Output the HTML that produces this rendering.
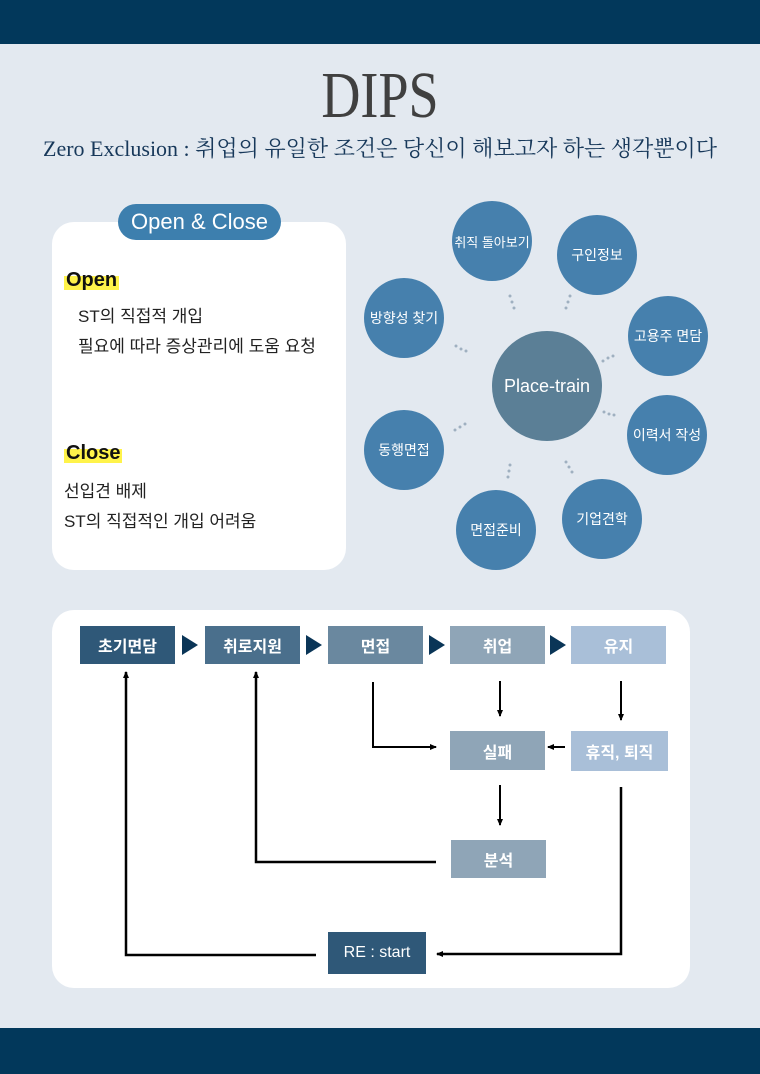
<!DOCTYPE html>
<html><head><meta charset="utf-8"><style>
body{margin:0;width:760px;height:1074px;background:#e3e9f0;position:relative;overflow:hidden;font-family:"Liberation Sans","Noto Sans CJK KR",sans-serif}
.bar{position:absolute;left:0;width:760px;background:#02385b}
.abs{position:absolute}
.card{position:absolute;background:#fff;border-radius:22px}
.c{position:absolute;border-radius:50%;background:#4680ad;color:#fff;display:flex;align-items:center;justify-content:center;font-size:13px}
.b{position:absolute;color:#fff;display:flex;align-items:center;justify-content:center;font-size:16px;font-weight:bold}
.t{position:absolute;font-size:17px;color:#222}
.hl{position:absolute;font-size:20px;font-weight:bold;color:#111;background:linear-gradient(transparent 30%,#fff34a 30%,#fff34a 92%,transparent 92%);padding:0 2px}
</style></head><body>
<div class="bar" style="top:0;height:44px"></div>
<div class="bar" style="top:1028px;height:46px"></div>
<div class="abs" style="left:0;width:760px;top:58px;text-align:center;font-family:'Liberation Serif',serif;font-size:66px;color:#404040;transform:scaleX(0.82)">DIPS</div>
<div class="abs" style="left:0;width:760px;top:132px;text-align:center;font-family:'Liberation Serif','Noto Serif CJK SC',serif;font-size:22px;color:#17385a">Zero Exclusion : 취업의 유일한 조건은 당신이 해보고자 하는 생각뿐이다</div>

<div class="card" style="left:52px;top:222px;width:294px;height:348px"></div>
<div class="abs" style="left:118px;top:204px;width:163px;height:36px;border-radius:18px;background:#3d7fae;color:#fff;font-size:22px;display:flex;align-items:center;justify-content:center">Open &amp; Close</div>
<div class="hl" style="left:64px;top:269px">Open</div>
<div class="t" style="left:78px;top:302px">ST의 직접적 개입</div>
<div class="t" style="left:78px;top:332px">필요에 따라 증상관리에 도움 요청</div>
<div class="hl" style="left:64px;top:442px">Close</div>
<div class="t" style="left:64px;top:477px">선입견 배제</div>
<div class="t" style="left:64px;top:507px">ST의 직접적인 개입 어려움</div>

<svg class="abs" style="left:0;top:0" width="760" height="1074">
<g fill="#9fb0c0">
<circle cx="510" cy="296" r="1.5"/><circle cx="512" cy="302" r="1.5"/><circle cx="514" cy="308" r="1.5"/>
<circle cx="570" cy="296" r="1.5"/><circle cx="568" cy="302" r="1.5"/><circle cx="566" cy="308" r="1.5"/>
<circle cx="456" cy="346" r="1.5"/><circle cx="461" cy="349" r="1.5"/><circle cx="466" cy="351" r="1.5"/>
<circle cx="603" cy="361" r="1.5"/><circle cx="608" cy="358" r="1.5"/><circle cx="613" cy="356" r="1.5"/>
<circle cx="604" cy="412" r="1.5"/><circle cx="609" cy="414" r="1.5"/><circle cx="614" cy="415" r="1.5"/>
<circle cx="455" cy="430" r="1.5"/><circle cx="460" cy="427" r="1.5"/><circle cx="465" cy="424" r="1.5"/>
<circle cx="510" cy="465" r="1.5"/><circle cx="509" cy="471" r="1.5"/><circle cx="508" cy="477" r="1.5"/>
<circle cx="566" cy="462" r="1.5"/><circle cx="569" cy="467" r="1.5"/><circle cx="572" cy="472" r="1.5"/>
</g></svg>
<div class="c" style="left:492px;top:331px;width:110px;height:110px;background:#5b7f96;font-size:18px">Place-train</div>
<div class="c" style="left:452px;top:201px;width:80px;height:80px">취직 돌아보기</div>
<div class="c" style="left:557px;top:215px;width:80px;height:80px;font-size:14px">구인정보</div>
<div class="c" style="left:364px;top:278px;width:80px;height:80px;font-size:14px">방향성 찾기</div>
<div class="c" style="left:628px;top:296px;width:80px;height:80px;font-size:14px">고용주 면담</div>
<div class="c" style="left:364px;top:410px;width:80px;height:80px;font-size:14px">동행면접</div>
<div class="c" style="left:627px;top:395px;width:80px;height:80px;font-size:14px">이력서 작성</div>
<div class="c" style="left:456px;top:490px;width:80px;height:80px;font-size:14px">면접준비</div>
<div class="c" style="left:562px;top:479px;width:80px;height:80px;font-size:14px">기업견학</div>

<div class="card" style="left:52px;top:610px;width:638px;height:378px"></div>
<div class="b" style="left:80px;top:626px;width:95px;height:38px;background:#2f5878">초기면담</div>
<div class="b" style="left:205px;top:626px;width:95px;height:38px;background:#4a6f8c">취로지원</div>
<div class="b" style="left:328px;top:626px;width:95px;height:38px;background:#6a889f">면접</div>
<div class="b" style="left:450px;top:626px;width:95px;height:38px;background:#8fa5b7">취업</div>
<div class="b" style="left:571px;top:626px;width:95px;height:38px;background:#a9bfd8">유지</div>
<div class="b" style="left:450px;top:731px;width:95px;height:39px;background:#8fa5b7">실패</div>
<div class="b" style="left:571px;top:731px;width:97px;height:40px;background:#a9bfd8">휴직, 퇴직</div>
<div class="b" style="left:451px;top:840px;width:95px;height:38px;background:#8fa5b7">분석</div>
<div class="b" style="left:328px;top:932px;width:98px;height:42px;background:#2f5878;font-weight:normal">RE : start</div>
<svg class="abs" style="left:0;top:0" width="760" height="1074">
<defs><marker id="a" markerUnits="userSpaceOnUse" markerWidth="7" markerHeight="6" refX="6" refY="3" orient="auto"><path d="M0,0L7,3L0,6z" fill="#000"/></marker></defs>
<g fill="#0a3557">
<path d="M182,635L198,645L182,655z"/><path d="M306,635L322,645L306,655z"/><path d="M429,635L445,645L429,655z"/><path d="M550,635L566,645L550,655z"/>
</g>
<g stroke="#000" fill="none" stroke-width="2">
<path d="M500,681V716" marker-end="url(#a)"/>
<path d="M621,681V720" marker-end="url(#a)"/>
<path d="M373,682V747H436" marker-end="url(#a)"/>
<path d="M565,747H548" marker-end="url(#a)"/>
<path d="M500,785V825" marker-end="url(#a)"/>
<path d="M436,862H256V672" marker-end="url(#a)" stroke-width="2.5"/>
<path d="M621,787V954H437" marker-end="url(#a)" stroke-width="2.5"/>
<path d="M316,955H126V672" marker-end="url(#a)" stroke-width="2.5"/>
</g></svg>
</body></html>
